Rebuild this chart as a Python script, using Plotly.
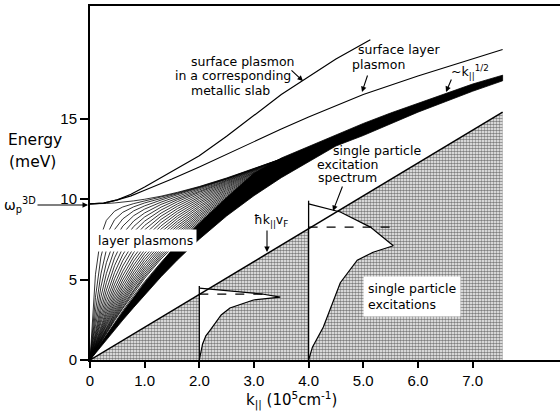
import plotly.graph_objects as go

# ---------------- data ----------------
x_tick_vals = [0, 1, 2, 3, 4, 5, 6, 7]
x_tick_text = ["0", "1.0", "2.0", "3.0", "4.0", "5.0", "6.0", "7.0"]
y_tick_vals = [0, 5, 10, 15]

# layer plasmon branches (energy in meV at k_grid, 10^5 cm^-1)
k_grid = [0, 0.05, 0.1, 0.2, 0.3, 0.45, 0.6, 0.8, 1.0, 1.3, 1.6, 2.0, 2.5, 3.0, 3.5]
layer_plasmon_E = [
    [9.70, 9.70, 9.70, 9.71, 9.73, 9.76, 9.81, 9.89, 9.99, 10.18, 10.42, 10.78, 11.31, 11.89, 12.50],
    [0, 3.03, 5.33, 7.73, 8.68, 9.25, 9.51, 9.72, 9.88, 10.12, 10.38, 10.76, 11.29, 11.88, 12.49],
    [0, 1.58, 3.04, 5.35, 6.85, 8.11, 8.77, 9.27, 9.58, 9.94, 10.26, 10.68, 11.25, 11.85, 12.48],
    [0, 1.06, 2.09, 3.92, 5.38, 6.89, 7.85, 8.64, 9.14, 9.67, 10.07, 10.57, 11.18, 11.81, 12.45],
    [0, 0.80, 1.59, 3.07, 4.35, 5.87, 6.96, 7.96, 8.63, 9.32, 9.84, 10.42, 11.09, 11.75, 12.41],
    [0, 0.65, 1.29, 2.51, 3.63, 5.06, 6.18, 7.29, 8.09, 8.94, 9.56, 10.23, 10.97, 11.67, 12.36],
    [0, 0.54, 1.08, 2.13, 3.11, 4.43, 5.52, 6.68, 7.56, 8.54, 9.26, 10.03, 10.84, 11.59, 12.31],
    [0, 0.47, 0.94, 1.86, 2.73, 3.93, 4.98, 6.14, 7.07, 8.14, 8.95, 9.81, 10.70, 11.49, 12.24],
    [0, 0.42, 0.83, 1.65, 2.44, 3.54, 4.54, 5.68, 6.63, 7.76, 8.64, 9.58, 10.55, 11.39, 12.17],
    [0, 0.375, 0.75, 1.49, 2.21, 3.23, 4.17, 5.28, 6.23, 7.41, 8.34, 9.35, 10.39, 11.28, 12.10],
    [0, 0.34, 0.68, 1.36, 2.02, 2.97, 3.86, 4.94, 5.88, 7.08, 8.06, 9.13, 10.23, 11.17, 12.02],
    [0, 0.32, 0.63, 1.26, 1.87, 2.76, 3.61, 4.64, 5.58, 6.78, 7.79, 8.92, 10.07, 11.06, 11.95],
    [0, 0.29, 0.59, 1.17, 1.75, 2.59, 3.39, 4.39, 5.31, 6.51, 7.55, 8.71, 9.92, 10.95, 11.87],
    [0, 0.28, 0.55, 1.11, 1.65, 2.45, 3.21, 4.18, 5.08, 6.28, 7.32, 8.52, 9.78, 10.85, 11.80],
    [0, 0.26, 0.53, 1.05, 1.57, 2.33, 3.06, 4.00, 4.87, 6.07, 7.12, 8.34, 9.64, 10.75, 11.72],
    [0, 0.25, 0.50, 1.00, 1.50, 2.23, 2.94, 3.84, 4.70, 5.88, 6.94, 8.18, 9.51, 10.65, 11.65],
    [0, 0.24, 0.48, 0.96, 1.44, 2.14, 2.83, 3.71, 4.55, 5.72, 6.79, 8.04, 9.40, 10.56, 11.59],
]
# intermediate branches lying between the ones above
layer_plasmon_mid_E = [
    [0, 2.08, 3.90, 6.41, 7.75, 8.72, 9.18, 9.52, 9.76, 10.04, 10.33, 10.73, 11.27, 11.87, 12.49],
    [0, 1.27, 2.48, 4.54, 6.05, 7.49, 8.32, 8.97, 9.38, 9.81, 10.17, 10.63, 11.22, 11.83, 12.47],
    [0, 0.91, 1.81, 3.44, 4.81, 6.35, 7.40, 8.30, 8.89, 9.50, 9.96, 10.50, 11.14, 11.78, 12.43],
    [0, 0.72, 1.42, 2.76, 3.96, 5.44, 6.55, 7.62, 8.36, 9.13, 9.70, 10.33, 11.03, 11.71, 12.39],
    [0, 0.59, 1.18, 2.31, 3.35, 4.72, 5.84, 6.98, 7.82, 8.74, 9.41, 10.13, 10.91, 11.63, 12.34],
    [0, 0.50, 1.01, 1.98, 2.91, 4.16, 5.24, 6.40, 7.31, 8.34, 9.11, 9.92, 10.77, 11.54, 12.28],
    [0, 0.44, 0.88, 1.75, 2.57, 3.73, 4.75, 5.90, 6.84, 7.95, 8.80, 9.70, 10.62, 11.44, 12.21],
    [0, 0.39, 0.79, 1.56, 2.31, 3.38, 4.34, 5.47, 6.42, 7.58, 8.49, 9.47, 10.47, 11.34, 12.14],
    [0, 0.36, 0.71, 1.42, 2.11, 3.09, 4.01, 5.10, 6.05, 7.24, 8.20, 9.24, 10.31, 11.23, 12.06],
    [0, 0.33, 0.66, 1.31, 1.94, 2.86, 3.73, 4.79, 5.72, 6.93, 7.92, 9.02, 10.15, 11.12, 11.99],
    [0, 0.31, 0.61, 1.21, 1.81, 2.67, 3.50, 4.51, 5.44, 6.64, 7.67, 8.81, 10.00, 11.01, 11.91],
    [0, 0.29, 0.57, 1.14, 1.70, 2.52, 3.30, 4.28, 5.19, 6.39, 7.43, 8.61, 9.85, 10.90, 11.83],
]
band_lower_small_E = [0, 0.21, 0.42, 0.83, 1.25, 1.87, 2.48, 3.27, 4.05, 5.17, 6.22, 7.51, 8.95, 10.21, 11.33]

# dense (black) part of the layer-plasmon band
band_k = [3.5, 4.0, 4.5, 5.0, 5.5, 6.0, 6.5, 7.0, 7.55]
band_lower = [11.33, 12.3, 13.3, 13.95, 14.7, 15.4, 16.05, 16.7, 17.35]
band_upper = [12.55, 13.25, 14.0, 14.7, 15.35, 15.95, 16.55, 17.15, 17.7]
black_top_k = [0, 0.3, 0.6, 1.0, 1.5, 2.0, 2.5, 3.0, 3.5]
black_top_E = [0, 1.52, 2.98, 4.8, 6.85, 8.5, 10.1, 11.6, 12.55]

# surface plasmon of metallic slab
slab_k = [0, 0.25, 0.5, 0.75, 1.0, 1.5, 2.0, 2.5, 3.0, 3.5, 4.0, 4.5, 5.13]
slab_E = [9.7, 9.75, 9.95, 10.3, 10.75, 11.7, 12.7, 13.9, 15.2, 16.5, 17.6, 18.7, 19.9]
# surface layer plasmon
surf_k = [0, 0.25, 0.5, 0.75, 1.0, 1.5, 2.0, 2.5, 3.0, 3.5, 4.0, 4.5, 5.0, 6.0, 7.0, 7.55]
surf_E = [9.7, 9.75, 9.95, 10.2, 10.55, 11.25, 12.0, 12.8, 13.6, 14.35, 15.1, 15.8, 16.5, 17.65, 18.7, 19.3]

# single particle continuum  (hbar k v_F)
hkvf_k = [0, 7.55]
hkvf_E = [0, 15.4]

# single particle excitation spectra at k = 2.0 and k = 4.0
spec2_top_k = [2.0, 2.55, 3.15, 3.48]
spec2_top_E = [4.47, 4.29, 4.1, 3.91]
spec2_low_k = [2.0, 2.06, 2.12, 2.2, 2.4, 2.56, 2.99, 3.48]
spec2_low_E = [0, 1.0, 1.5, 1.86, 2.8, 3.23, 3.73, 3.91]
spec2_axis_E = [0, 4.6]
spec2_dash_k = [2.0, 3.3]
spec2_dash_E = [4.1, 4.1]

spec4_top_k = [4.0, 4.58, 5.13, 5.49, 5.55]
spec4_top_E = [9.7, 9.2, 8.26, 7.27, 7.1]
spec4_low_k = [4.0, 4.07, 4.27, 4.58, 4.89, 5.18, 5.55]
spec4_low_E = [0, 0.8, 2.05, 4.8, 6.2, 6.7, 7.1]
spec4_axis_E = [0, 9.9]
spec4_dash_k = [4.0, 5.55]
spec4_dash_E = [8.26, 8.26]

# ---------------- layout geometry ----------------
W, H = 560, 413
ML, MR, MT, MB = 90, 0, 6, 53
PW, PH = W - ML - MR, H - MT - MB


def px(p):
    return (p - ML) / PW


def py(p):
    return (H - MB - p) / PH


fig = go.Figure()
BLK = "black"

# dotted single-particle region
fig.add_trace(go.Scatter(
    x=[hkvf_k[0], hkvf_k[1], hkvf_k[1]], y=[hkvf_E[0], hkvf_E[1], 0],
    mode="lines", line=dict(width=0), fill="toself", fillcolor="white",
    fillpattern=dict(shape=".", fgcolor="black", bgcolor="white", size=3, solidity=0.6),
    hoverinfo="skip"))

# spectra (white interior)
for tk, tE, lk, lE in [(spec2_top_k, spec2_top_E, spec2_low_k, spec2_low_E),
                       (spec4_top_k, spec4_top_E, spec4_low_k, spec4_low_E)]:
    fig.add_trace(go.Scatter(
        x=tk + lk[::-1], y=tE + lE[::-1], mode="lines",
        line=dict(color=BLK, width=1.2), fill="toself", fillcolor="white",
        hoverinfo="skip"))
for kk, aE in [(spec2_top_k[0], spec2_axis_E), (spec4_top_k[0], spec4_axis_E)]:
    fig.add_trace(go.Scatter(x=[kk, kk], y=aE, mode="lines",
                             line=dict(color=BLK, width=1.3), hoverinfo="skip"))
for dk, dE in [(spec2_dash_k, spec2_dash_E), (spec4_dash_k, spec4_dash_E)]:
    fig.add_trace(go.Scatter(x=dk, y=dE, mode="lines",
                             line=dict(color=BLK, width=1.2, dash="dash"), hoverinfo="skip"))

# hbar k v_F line
fig.add_trace(go.Scatter(x=hkvf_k, y=hkvf_E, mode="lines",
                         line=dict(color=BLK, width=1.5), hoverinfo="skip"))

# layer plasmons
for row in layer_plasmon_E + layer_plasmon_mid_E:
    fig.add_trace(go.Scatter(x=k_grid, y=row, mode="lines",
                             line=dict(color=BLK, width=0.8), hoverinfo="skip"))

# dense black band
poly_k = k_grid + band_k[1:] + band_k[::-1] + black_top_k[:-1][::-1]
poly_E = band_lower_small_E + band_lower[1:] + band_upper[::-1] + black_top_E[:-1][::-1]
fig.add_trace(go.Scatter(x=poly_k, y=poly_E, mode="lines", line=dict(color=BLK, width=0.8),
                         fill="toself", fillcolor=BLK, hoverinfo="skip"))

# surface plasmons
fig.add_trace(go.Scatter(x=slab_k, y=slab_E, mode="lines", line=dict(color=BLK, width=1.2),
                         hoverinfo="skip"))
fig.add_trace(go.Scatter(x=surf_k, y=surf_E, mode="lines", line=dict(color=BLK, width=1.1),
                         hoverinfo="skip"))

# ---------------- text ----------------
TF = dict(family="DejaVu Sans", size=12.5, color=BLK)
ann = []


def label(text, x, y, **kw):
    d = dict(x=px(x), y=py(y), xref="paper", yref="paper", text=text, showarrow=False,
             xanchor="center", yanchor="middle", font=kw.pop("font", TF))
    d.update(kw)
    ann.append(d)


def arrow(tx, ty, hx, hy, text="", font=TF):
    ann.append(dict(x=px(hx), y=py(hy), ax=tx - hx, ay=ty - hy, xref="paper", yref="paper",
                    axref="pixel", ayref="pixel", text=text, showarrow=True, arrowhead=2,
                    arrowsize=1, arrowwidth=1.1, arrowcolor=BLK, standoff=0,
                    xanchor="center", yanchor="middle", font=font))


label("surface plasmon", 243, 62)
label("in a corresponding", 233, 76)
label("metallic slab", 230, 90)
arrow(290, 69, 303, 81)
label("surface layer", 399, 50)
label("plasmon", 378, 64)
arrow(368, 74, 362, 92)
label("~k<sub>||</sub><sup>1/2</sup>", 470, 72)
arrow(452, 78, 446, 92)
label("single particle", 377, 151)
label("excitation", 348, 164)
label("spectrum", 347, 177)
arrow(343, 185, 333, 211)
label("layer plasmons", 145, 241, bgcolor="white", borderpad=3)
label("ħk<sub>||</sub>v<sub>F</sub>", 271, 220)
arrow(267, 229, 267, 252)
label("single particle<br>excitations", 363, 296, xanchor="left", align="left",
      bgcolor="white", borderpad=4)
BIG = dict(family="DejaVu Sans", size=15.5, color=BLK)
label("Energy", 35, 140, font=BIG)
label("(meV)", 32, 162, font=BIG)
label("k<sub>||</sub> (10<sup>5</sup>cm<sup>-1</sup>)", 291, 400,
      font=dict(family="DejaVu Sans", size=15, color=BLK))
arrow(20, 205, 88, 205, text="ω<sub>p</sub><sup>3D</sup>",
      font=dict(family="DejaVu Sans", size=14, color=BLK))

fig.update_layout(
    width=W, height=H, margin=dict(l=ML, r=MR, t=MT, b=MB, autoexpand=False),
    plot_bgcolor="white", paper_bgcolor="white", showlegend=False,
    annotations=ann)
TICKF = dict(family="Liberation Sans", size=15, color=BLK)
fig.update_xaxes(range=[0, 8.6], showline=True, linecolor=BLK, linewidth=2, mirror=True,
                 ticks="outside", ticklen=6, tickwidth=1.5, tickcolor=BLK,
                 tickvals=x_tick_vals, ticktext=x_tick_text, showgrid=False,
                 zeroline=False, tickfont=TICKF)
fig.update_yaxes(range=[0, 22], showline=True, linecolor=BLK, linewidth=2, mirror=False,
                 ticks="outside", ticklen=8, tickwidth=1.5, tickcolor=BLK,
                 tickvals=y_tick_vals, showgrid=False, zeroline=False, tickfont=TICKF)

fig.write_html("out.html", config={"displayModeBar": False},
               post_script="document.body.style.margin='0';document.body.style.overflow='hidden';")
